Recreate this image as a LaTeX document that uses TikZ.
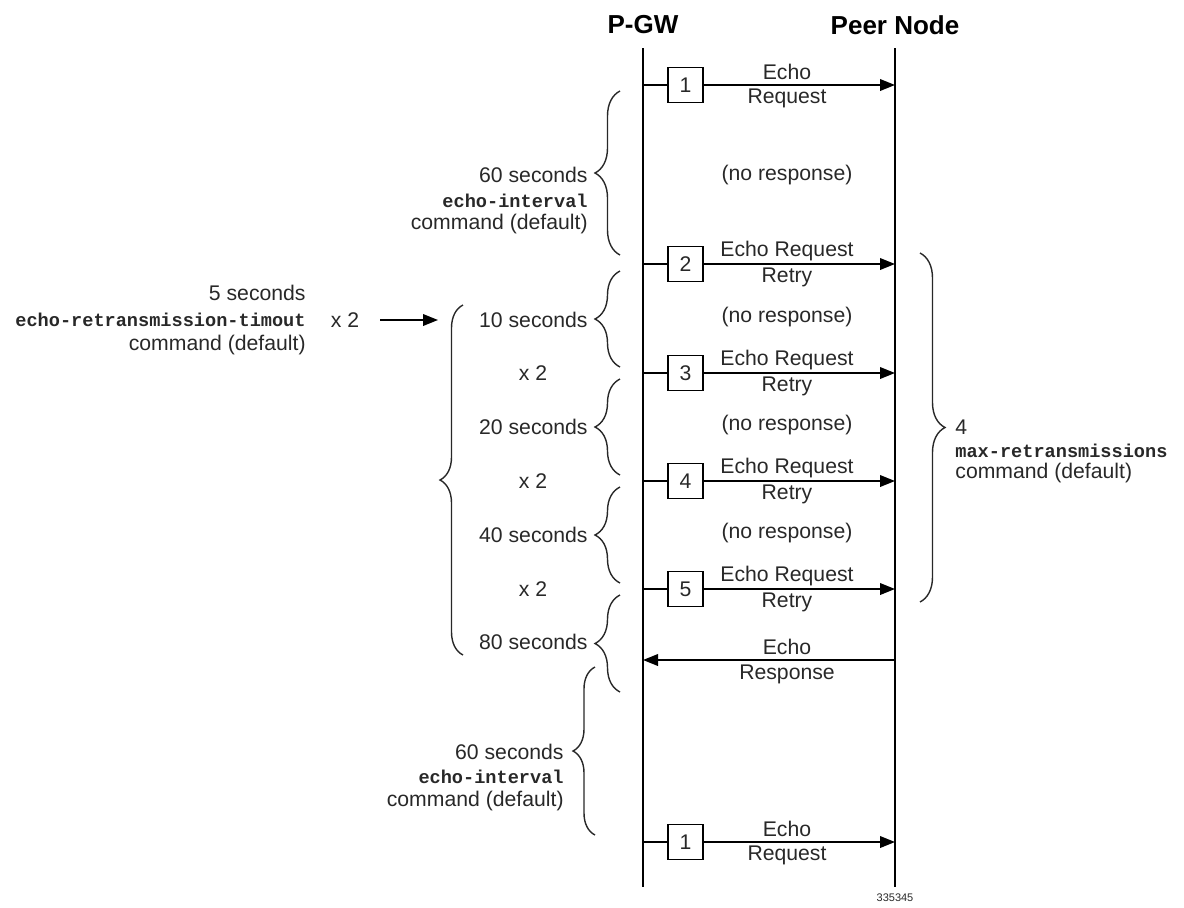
\documentclass[tikz,border=0pt]{standalone}
\usepackage{fontspec}
\setmainfont{Liberation Sans}
\setmonofont{Liberation Mono}
\usetikzlibrary{arrows.meta,decorations.pathreplacing}
\definecolor{txtgray}{RGB}{40,40,40}
\begin{document}
\begin{tikzpicture}[x=0.5pt,y=-0.5pt,
  ln/.style={line width=0.9pt,black},
  arr/.style={ln,-{Triangle[length=7.5pt,width=5.8pt]}},
  txt/.style={inner sep=0pt,text=txtgray,font=\fontsize{10.6}{12.7}\selectfont},
  mono/.style={inner sep=0pt,text=txtgray,font=\fontsize{9.3}{11}\selectfont\ttfamily\bfseries},
  title/.style={inner sep=0pt,font=\fontsize{13}{15}\selectfont\bfseries},
  numbox/.style={draw,line width=0.8pt,minimum width=17.5pt,minimum height=17.5pt,inner sep=0pt,text=txtgray,font=\fontsize{10.6}{12.7}\selectfont},
  brc/.style={decorate,decoration={brace,amplitude=#1},line width=0.7pt,txtgray},
  brc/.default=12pt]
\useasboundingbox (0,0) rectangle (1184,907);

% titles
\node[title] (tpgw) at (643,25) {P-GW};
\node[title] (tpeer) at (895,25) {Peer Node};

% lifelines
\coordinate (pt) at (643,48); \coordinate (pb) at (643,887);
\coordinate (qt) at (895,48); \coordinate (qb) at (895,887);
\draw[ln] (pt) -- (pb);
\draw[ln] (qt) -- (qb);

% messages
\foreach \i/\y/\n/\la/\lb in {1/85/1/Echo/Request, 2/264/2/Echo Request/Retry, 3/373/3/Echo Request/Retry, 4/481/4/Echo Request/Retry, 5/589/5/Echo Request/Retry, 7/842/1/Echo/Request}{
  \coordinate (p\i) at (643,\y);
  \coordinate (q\i) at (895,\y);
  \node[numbox] (b\i) at (685.5,\y) {\n};
  \draw[ln] (p\i) -- (b\i);
  \draw[arr] (b\i) -- (q\i);
  \node[txt] (ma\i) at (787,\y-13) {\la};
  \node[txt] (mb\i) at (787,\y+13) {\lb};
}
% response
\coordinate (p6) at (643,660);
\coordinate (q6) at (895,660);
\draw[arr] (q6) -- (p6);
\node[txt] (ma6) at (787,647) {Echo};
\node[txt] (mb6) at (787,674) {Response};

% no response
\node[txt] (nr1) at (787,175) {(no response)};
\node[txt] (nr2) at (787,317) {(no response)};
\node[txt] (nr3) at (787,425) {(no response)};
\node[txt] (nr4) at (787,533) {(no response)};

% left small braces
\draw[brc=12.5pt] (620,255) -- (620,91);
\draw[brc=12.5pt] (620,367) -- (620,271);
\draw[brc=12.5pt] (620,475) -- (620,379);
\draw[brc=12.5pt] (620,583) -- (620,487);
\draw[brc=12.5pt] (620,692) -- (620,595);
\draw[brc=11pt] (595,835) -- (595,667);

% brace labels
\node[txt,anchor=east] (s60a) at (588,175) {60 seconds};
\node[mono,anchor=east] (eia) at (588,201) {echo-interval};
\node[txt,anchor=east] (cda) at (588,224) {command (default)};
\node[txt,anchor=east] (s10) at (588,320) {10 seconds};
\node[txt,anchor=east] (s20) at (588,427) {20 seconds};
\node[txt,anchor=east] (s40) at (588,535) {40 seconds};
\node[txt,anchor=east] (s80) at (588,642) {80 seconds};
\node[txt,anchor=east] (s60b) at (564,752) {60 seconds};
\node[mono,anchor=east] (eib) at (564,777) {echo-interval};
\node[txt,anchor=east] (cdb) at (564,801) {command (default)};

\node[txt] (x2a) at (533,373) {x 2};
\node[txt] (x2b) at (533,481) {x 2};
\node[txt] (x2c) at (533,589) {x 2};

% big left brace
\draw[brc=11.5pt] (463,655) -- (463,305);

% left annotation
\node[txt,anchor=east] (s5) at (306,293) {5 seconds};
\node[mono,anchor=east] (ert) at (306,320) {echo-retransmission-timout};
\node[txt,anchor=east] (cdc) at (306,345) {command (default)};
\node[txt] (x2l) at (345,320) {x 2};
\coordinate (la) at (380,320);
\coordinate (lb) at (438,320);
\draw[arr] (la) -- (lb);

% right brace
\draw[brc=12.5pt] (920,253) -- (920,602);
\node[txt,anchor=west] (r4) at (955,427) {4};
\node[mono,anchor=west] (rmx) at (955,451) {max-retransmissions};
\node[txt,anchor=west] (rcd) at (955,473) {command (default)};

% figure number
\node[inner sep=0pt,text=txtgray,font=\fontsize{5.5}{6}\selectfont] (fig) at (895,898) {335345};
\end{tikzpicture}
\end{document}
